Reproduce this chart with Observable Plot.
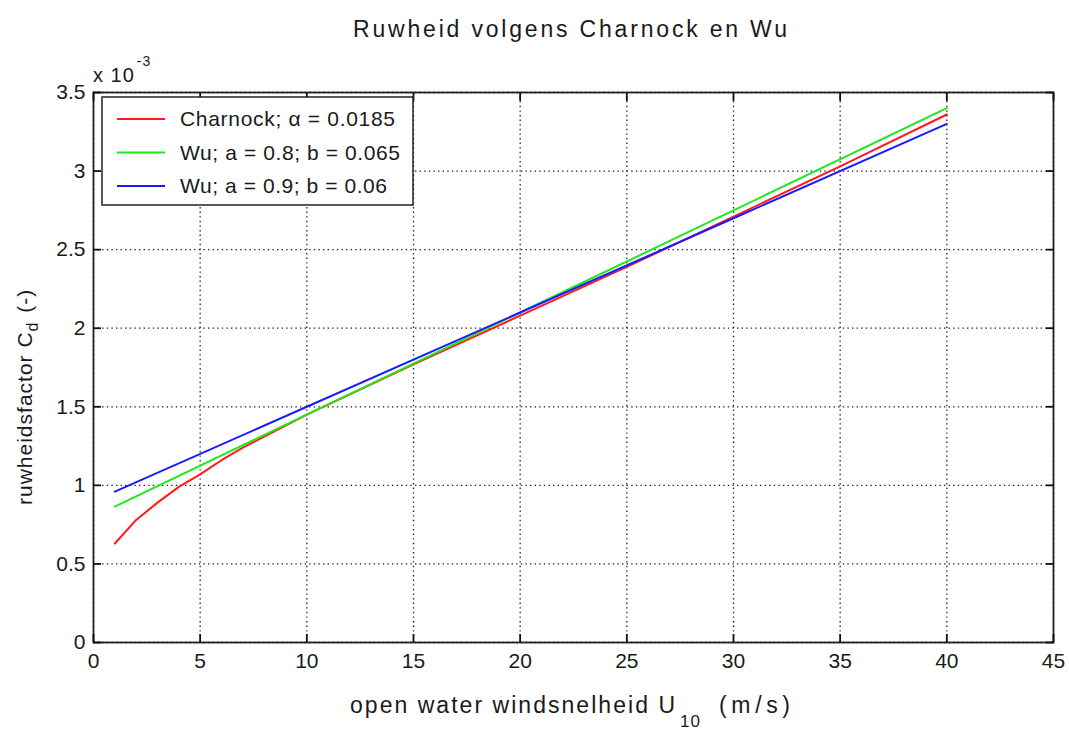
<!DOCTYPE html>
<html><head><meta charset="utf-8">
<script src="https://cdn.jsdelivr.net/npm/d3@7"></script>
<script src="https://cdn.jsdelivr.net/npm/@observablehq/plot@0.6"></script>
<style>
body{margin:0;background:#fff;}
svg{display:block;}
</style>
</head><body><div id="chart"></div>
<script>
// Wind speed U10 (m/s) and drag coefficient Cd (x 10^-3)
const charnockSpeed = [1, 2, 3, 4, 5, 6, 7, 8, 9, 10, 15, 20, 25, 30, 35, 40];
const charnockCd    = [0.63, 0.78, 0.89, 0.99, 1.07, 1.16, 1.24, 1.31, 1.38, 1.45, 1.77, 2.08, 2.39, 2.71, 3.03, 3.36];
const wuSpeed = [1, 10, 20, 30, 40];
const wuACd   = [0.865, 1.45, 2.10, 2.75, 3.40];
const wuBCd   = [0.96, 1.50, 2.10, 2.70, 3.30];
const seriesNames  = ["Charnock; α = 0.0185", "Wu; a = 0.8; b = 0.065", "Wu; a = 0.9; b = 0.06"];
const seriesColors = ["#ff1a1a", "#1fe81f", "#1a1aff"];
const xTicks = [0, 5, 10, 15, 20, 25, 30, 35, 40, 45];
const yTicks = [0, 0.5, 1, 1.5, 2, 2.5, 3, 3.5];

const rows = [
  ...charnockSpeed.map((u, i) => ({u, cd: charnockCd[i], series: seriesNames[0]})),
  ...wuSpeed.map((u, i) => ({u, cd: wuACd[i], series: seriesNames[1]})),
  ...wuSpeed.map((u, i) => ({u, cd: wuBCd[i], series: seriesNames[2]}))
];

const font = "'Liberation Sans', Arial, sans-serif";
const gridStyle = {stroke: "#222", strokeOpacity: 1, strokeDasharray: "1.4,3.2", strokeWidth: 1.3};
const tickStyle = {tickFormat: () => "", label: null, stroke: "#111", strokeWidth: 1.8};

const chart = Plot.plot({
  width: 1069, height: 733,
  marginLeft: 93, marginRight: 16, marginTop: 92, marginBottom: 91,
  style: {fontFamily: font, fontSize: "21px", color: "#1a1a1a", background: "#fff"},
  x: {domain: [0, 45], label: null},
  y: {domain: [0, 3.5], label: null},
  color: {domain: seriesNames, range: seriesColors},
  marks: [
    Plot.gridX(xTicks, gridStyle),
    Plot.gridY(yTicks, gridStyle),
    Plot.line(rows, {x: "u", y: "cd", z: "series", stroke: "series", strokeWidth: 2}),
    Plot.frame({stroke: "#222", strokeWidth: 1.8}),
    Plot.axisX(xTicks, {anchor: "bottom", tickSize: 0, tickPadding: 11, label: null, letterSpacing: "1.5px", tickFormat: d => String(d)}),
    Plot.axisY(yTicks, {anchor: "left", tickSize: 0, tickPadding: 8, label: null, letterSpacing: "2px", tickFormat: d => String(d)}),
    Plot.axisX(xTicks, {anchor: "bottom", tickSize: -8, ...tickStyle}),
    Plot.axisX(xTicks, {anchor: "top", tickSize: -8, ...tickStyle}),
    Plot.axisY(yTicks, {anchor: "left", tickSize: -8, ...tickStyle}),
    Plot.axisY(yTicks, {anchor: "right", tickSize: -8, ...tickStyle})
  ]
});
document.getElementById("chart").appendChild(chart);

const svg = d3.select(chart);
const txt = svg.append("g").attr("font-family", font).attr("fill", "#1a1a1a").attr("text-anchor", "start");

// title
txt.append("text").attr("x", 570).attr("y", 37).attr("text-anchor", "middle")
  .attr("font-size", 23).attr("textLength", 434).attr("lengthAdjust", "spacing")
  .text("Ruwheid volgens Charnock en Wu");

// exponent label
const ex = txt.append("text").attr("x", 93).attr("y", 82).attr("font-size", 20).attr("letter-spacing", "1px");
ex.append("tspan").text("x 10");
ex.append("tspan").attr("dy", -16).attr("dx", 2).attr("font-size", 14).text("-3");

// x label
const xl = txt.append("text").attr("x", 350).attr("y", 713).attr("font-size", 23);
xl.append("tspan").attr("textLength", 325).attr("lengthAdjust", "spacing").text("open water windsnelheid U");
xl.append("tspan").attr("x", 680).attr("dy", 14).attr("font-size", 17).attr("letter-spacing", "1px").text("10");
xl.append("tspan").attr("x", 719).attr("dy", -14).attr("textLength", 71).attr("lengthAdjust", "spacing").text("(m/s)");

// y label
const yl = txt.append("text").attr("transform", "translate(32,505) rotate(-90)").attr("font-size", 21).attr("letter-spacing", "1px");
yl.append("tspan").text("ruwheidsfactor C");
yl.append("tspan").attr("dy", 6).attr("font-size", 16).text("d");
yl.append("tspan").attr("dy", -6).attr("dx", 2).text(" (-)");

// legend
const lg = svg.append("g").attr("text-anchor", "start");
lg.append("rect").attr("x", 102).attr("y", 97).attr("width", 311).attr("height", 108)
  .attr("fill", "#fff").attr("stroke", "#222").attr("stroke-width", 1.5);
const legendWidths = [215, 220, 207];
seriesNames.forEach((name, i) => {
  const y = 119 + i * 33.5;
  lg.append("line").attr("x1", 117).attr("x2", 165).attr("y1", y).attr("y2", y)
    .attr("stroke", seriesColors[i]).attr("stroke-width", 2);
  lg.append("text").attr("x", 180).attr("y", y + 7).attr("font-family", font).attr("font-size", 21)
    .attr("fill", "#1a1a1a").attr("textLength", legendWidths[i]).attr("lengthAdjust", "spacing").text(name);
});
</script>
</body></html>
